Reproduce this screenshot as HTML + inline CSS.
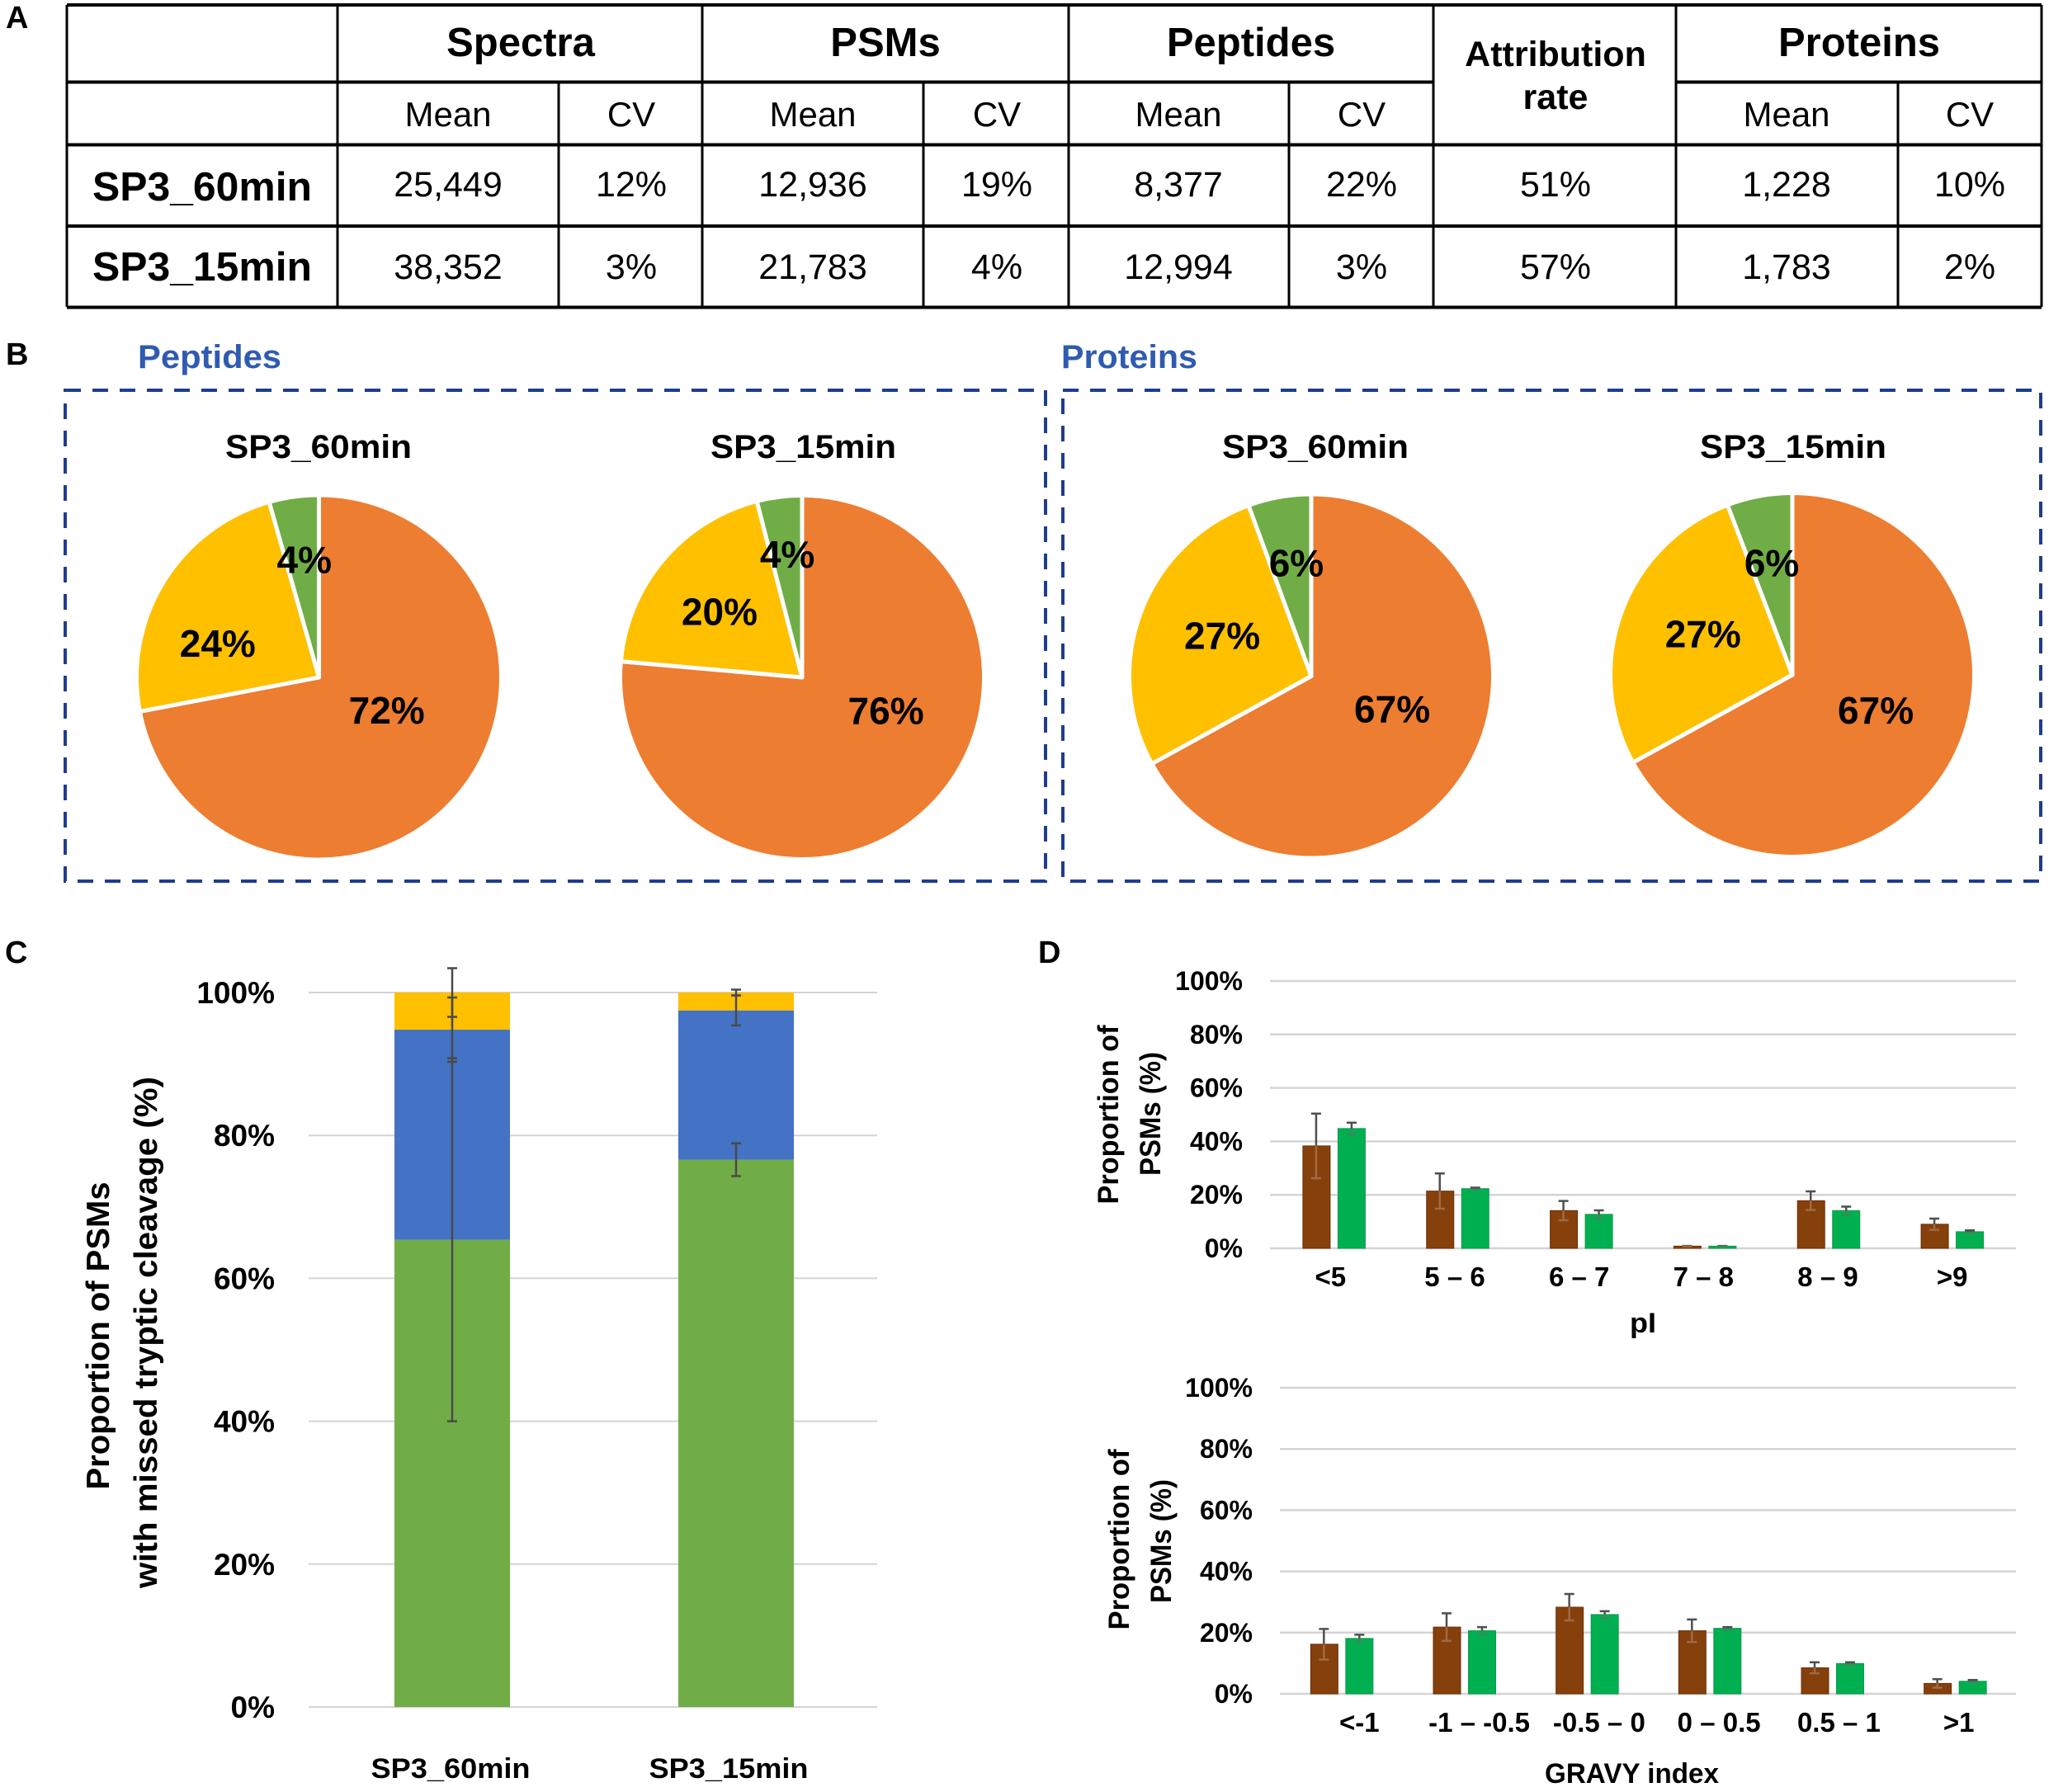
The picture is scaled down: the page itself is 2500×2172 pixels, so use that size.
<!DOCTYPE html>
<html lang="en">
<head>
<meta charset="utf-8">
<title>Proteomics summary figure</title>
<style>
html,body{margin:0;padding:0;background:#fff;}
svg{display:block;}
text{font-family:"Liberation Sans",sans-serif;fill:#000;}
.b{font-weight:bold;}
.hd{font-weight:bold;font-size:49px;text-anchor:middle;}
.sub{font-size:42px;text-anchor:middle;}
.num{font-size:43px;text-anchor:middle;}
.panel{font-weight:bold;font-size:38px;}
</style>
</head>
<body>
<svg id="fig" xmlns="http://www.w3.org/2000/svg" width="2500" height="2172" viewBox="0 0 2500 2172">
<rect width="2500" height="2172" fill="#fff"/>

<text class="panel" x="7" y="34">A</text>
<text class="panel" x="7" y="442">B</text>
<text class="panel" x="6" y="1167">C</text>
<text class="panel" x="1258" y="1167">D</text>

<g>
  <g stroke="#000" fill="none">
    <path stroke-width="4" d="M81 6H2474M81 99.5H1737M2031 99.5H2474M81 175.5H2474M81 274H2474M81 372.5H2474"/>
    <path stroke-width="3" d="M81 6V372M409 6V372M851 6V372M1295 6V372M1737 6V372M2031 6V372M2474 6V372M677 99V372M1119 99V372M1562 99V372M2300 99V372"/>
  </g>
  <text class="hd" x="631" y="68">Spectra</text>
  <text class="hd" x="1073" y="68">PSMs</text>
  <text class="hd" x="1516" y="68">Peptides</text>
  <text class="b" font-size="43" text-anchor="middle" x="1885" y="80">Attribution</text>
  <text class="b" font-size="43" text-anchor="middle" x="1885" y="132">rate</text>
  <text class="hd" x="2253" y="68">Proteins</text>

  <text class="sub" x="543" y="153">Mean</text>
  <text class="sub" x="765" y="153">CV</text>
  <text class="sub" x="985" y="153">Mean</text>
  <text class="sub" x="1208" y="153">CV</text>
  <text class="sub" x="1428" y="153">Mean</text>
  <text class="sub" x="1650" y="153">CV</text>
  <text class="sub" x="2165" y="153">Mean</text>
  <text class="sub" x="2387" y="153">CV</text>

  <text class="b" font-size="49" x="112" y="243" textLength="266" lengthAdjust="spacingAndGlyphs">SP3_60min</text>
  <text class="num" x="543" y="238">25,449</text>
  <text class="num" x="765" y="238">12%</text>
  <text class="num" x="985" y="238">12,936</text>
  <text class="num" x="1208" y="238">19%</text>
  <text class="num" x="1428" y="238">8,377</text>
  <text class="num" x="1650" y="238">22%</text>
  <text class="num" x="1885" y="238">51%</text>
  <text class="num" x="2165" y="238">1,228</text>
  <text class="num" x="2387" y="238">10%</text>

  <text class="b" font-size="49" x="112" y="340" textLength="266" lengthAdjust="spacingAndGlyphs">SP3_15min</text>
  <text class="num" x="543" y="338">38,352</text>
  <text class="num" x="765" y="338">3%</text>
  <text class="num" x="985" y="338">21,783</text>
  <text class="num" x="1208" y="338">4%</text>
  <text class="num" x="1428" y="338">12,994</text>
  <text class="num" x="1650" y="338">3%</text>
  <text class="num" x="1885" y="338">57%</text>
  <text class="num" x="2165" y="338">1,783</text>
  <text class="num" x="2387" y="338">2%</text>
</g>

<text class="b" style="fill:#2f5bb0" font-size="40" x="167" y="446" textLength="174" lengthAdjust="spacingAndGlyphs">Peptides</text>
<text class="b" style="fill:#2f5bb0" font-size="40" x="1286" y="446" textLength="165" lengthAdjust="spacingAndGlyphs">Proteins</text>
<rect x="79" y="473" width="1188" height="595" fill="none" stroke="#1f3c8f" stroke-width="4" stroke-dasharray="19 14"/>
<rect x="1288" y="473" width="1185" height="595" fill="none" stroke="#1f3c8f" stroke-width="4" stroke-dasharray="19 14"/>

<text class="b" font-size="40" x="273" y="555" textLength="226" lengthAdjust="spacingAndGlyphs">SP3_60min</text>
<text class="b" font-size="40" x="861" y="555" textLength="225" lengthAdjust="spacingAndGlyphs">SP3_15min</text>
<text class="b" font-size="40" x="1481" y="555" textLength="226" lengthAdjust="spacingAndGlyphs">SP3_60min</text>
<text class="b" font-size="40" x="2060" y="555" textLength="226" lengthAdjust="spacingAndGlyphs">SP3_15min</text>

<g id="pies"></g>

<g id="chartC">
  <text class="b" font-size="39" text-anchor="middle" transform="translate(132 1619) rotate(-90)" textLength="373" lengthAdjust="spacingAndGlyphs">Proportion of PSMs</text>
  <text class="b" font-size="39" text-anchor="middle" transform="translate(190 1615) rotate(-90)" textLength="620" lengthAdjust="spacingAndGlyphs">with missed tryptic cleavage (%)</text>
</g>

<g id="chartD1">
  <text class="b" font-size="35" text-anchor="middle" transform="translate(1355 1351) rotate(-90)" textLength="217" lengthAdjust="spacingAndGlyphs">Proportion of</text>
  <text class="b" font-size="35" text-anchor="middle" transform="translate(1406 1350) rotate(-90)" textLength="150" lengthAdjust="spacingAndGlyphs">PSMs (%)</text>
  <text class="b" font-size="34" x="1975" y="1615" textLength="32" lengthAdjust="spacingAndGlyphs">pI</text>
</g>

<g id="chartD2">
  <text class="b" font-size="35" text-anchor="middle" transform="translate(1368 1866) rotate(-90)" textLength="219" lengthAdjust="spacingAndGlyphs">Proportion of</text>
  <text class="b" font-size="35" text-anchor="middle" transform="translate(1419 1868) rotate(-90)" textLength="150" lengthAdjust="spacingAndGlyphs">PSMs (%)</text>
  <text class="b" font-size="34" x="1872" y="2161" textLength="211" lengthAdjust="spacingAndGlyphs">GRAVY index</text>
</g>
</svg>

<script>
// ---------- data ----------
const piePeptides60 = [72, 23.6, 4.4];
const piePeptides15 = [76.4, 19.6, 4];
const pieProteins60 = [67, 27.4, 5.6];
const pieProteins15 = [67, 27.2, 5.8];

const cCategories = ['SP3_60min', 'SP3_15min'];
const cTicks = [0, 20, 40, 60, 80, 100];
const cGreen = [65.4, 76.6];
const cBlue = [29.4, 20.9];
const cYellow = [5.2, 2.5];
const cGreenErr = [25.4, 2.3];
const cBlueErr = [4.5, 2.1];
const cYellowErr = [3.4, 0.4];

const dTicks = [0, 20, 40, 60, 80, 100];

const piCategories = ['<5', '5 – 6', '6 – 7', '7 – 8', '8 – 9', '>9'];
const piBrown = [38.3, 21.4, 14.1, 0.8, 17.8, 9.0];
const piGreen = [44.8, 22.3, 12.7, 0.8, 14.1, 6.2];
const piBrownErr = [12.1, 6.6, 3.6, 0.1, 3.5, 2.1];
const piGreenErr = [2.2, 0.4, 1.5, 0.1, 1.5, 0.5];

const gravyCategories = ['<-1', '-1 – -0.5', '-0.5 – 0', '0 – 0.5', '0.5 – 1', '>1'];
const gravyBrown = [16.2, 21.8, 28.3, 20.6, 8.5, 3.4];
const gravyGreen = [18.1, 20.6, 25.9, 21.4, 9.9, 4.1];
const gravyBrownErr = [5.0, 4.5, 4.3, 3.7, 1.8, 1.4];
const gravyGreenErr = [1.2, 1.2, 1.1, 0.4, 0.4, 0.4];

// ---------- helpers ----------
const NS = 'http://www.w3.org/2000/svg';
function mk(parent, tag, attrs, txt) {
  const n = document.createElementNS(NS, tag);
  for (const k in attrs) n.setAttribute(k, attrs[k]);
  if (txt !== undefined) n.textContent = txt;
  parent.appendChild(n);
  return n;
}
function slug(s) {
  return String(s).toLowerCase().replace(/</g, 'lt-').replace(/>/g, 'gt-').replace(/[^a-z0-9.]+/g, '-');
}

// ---------- pies ----------
const pieColors = ['#ED7D31', '#FFC000', '#70AD47'];
const pieSliceNames = ['orange', 'yellow', 'green'];
function drawPie(name, values, cx, cy, r, nudge) {
  const root = document.getElementById('pies');
  const g = mk(root, 'g', {});
  
  
  const total = values.reduce((a, b) => a + b, 0);
  let acc = 0;
  values.forEach((v, i) => {
    const a0 = acc / total * 2 * Math.PI;
    acc += v;
    const a1 = acc / total * 2 * Math.PI;
    const x0 = cx + r * Math.sin(a0), y0 = cy - r * Math.cos(a0);
    const x1 = cx + r * Math.sin(a1), y1 = cy - r * Math.cos(a1);
    const large = (a1 - a0) > Math.PI ? 1 : 0;
    const p = mk(g, 'path', {
      d: 'M' + cx + ' ' + cy + 'L' + x0 + ' ' + y0 + 'A' + r + ' ' + r + ' 0 ' + large + ' 1 ' + x1 + ' ' + y1 + 'Z',
      fill: pieColors[i], stroke: '#fff', 'stroke-width': 5, 'stroke-linejoin': 'round'
    });
    
    
  });
  acc = 0;
  values.forEach((v, i) => {
    const mid = (acc + v / 2) / total * 2 * Math.PI;
    acc += v;
    const lx = cx + 143 * Math.sin(mid) + nudge[i][0];
    const ly = cy - 143 * Math.cos(mid) + nudge[i][1] + 15;
    const t = mk(g, 'text', { x: lx, y: ly, 'font-size': 46, 'font-weight': 'bold', 'text-anchor': 'middle' }, Math.round(v) + '%');
    
    
  });
}
drawPie('peptides-60min', piePeptides60, 386.5, 821, 221, [[-28, -50], [-1, 35], [2, 0]]);
drawPie('peptides-15min', piePeptides15, 972, 821, 220.5, [[5, -64], [9, 14], [0, -6]]);
drawPie('proteins-60min', pieProteins60, 1589, 819.5, 220.5, [[-25, -32], [26, 2], [7, 5]]);
drawPie('proteins-15min', pieProteins15, 2172, 818, 220.5, [[-22, -29], [26, 1], [1, 6]]);

// ---------- shared axis ----------
function linearY(y0, y100) {
  return v => y0 - v * (y0 - y100) / 100;
}
function bandX(x0, x1, n) {
  const w = (x1 - x0) / n;
  return i => x0 + (i + 0.5) * w;
}
function drawErr(g, name, x, yTop, yBot, cap, color, lowerColor) {
  const mid = (yTop + yBot) / 2;
  const up = mk(g, 'path', {
    d: 'M' + (x - cap / 2) + ' ' + yTop + 'H' + (x + cap / 2) + 'M' + x + ' ' + yTop + 'V' + mid,
    stroke: color, 'stroke-width': 2.5, fill: 'none'
  });
  
  
  const lo = mk(g, 'path', {
    d: 'M' + x + ' ' + mid + 'V' + yBot + 'M' + (x - cap / 2) + ' ' + yBot + 'H' + (x + cap / 2),
    stroke: lowerColor, 'stroke-width': 2.5, fill: 'none'
  });
  
  
}

// ---------- chart C ----------
(function () {
  const g = document.getElementById('chartC');
  const y = linearY(2069, 1203);
  const x = bandX(376, 1064, cCategories.length);
  const barW = 140;
  cTicks.forEach(t => {
    const l = mk(g, 'line', { x1: 374, x2: 1063, y1: y(t), y2: y(t), stroke: '#d4d4d4', 'stroke-width': 2 });
    
    
    const s = mk(g, 'text', { x: 333, y: y(t) + 13, 'font-size': 37, 'font-weight': 'bold', 'text-anchor': 'end' }, t + '%');
    
    
  });
  cCategories.forEach((c, i) => {
    const base1 = cGreen[i], base2 = base1 + cBlue[i], base3 = base2 + cYellow[i];
    const left = x(i) - barW / 2;
    const r1 = mk(g, 'rect', { x: left, width: barW, y: y(base1), height: y(0) - y(base1), fill: '#70AD47' });
    
    
    const r2 = mk(g, 'rect', { x: left, width: barW, y: y(base2), height: y(base1) - y(base2), fill: '#4472C4' });
    
    
    const r3 = mk(g, 'rect', { x: left, width: barW, y: y(base3), height: y(base2) - y(base3), fill: '#FFC000' });
    
    
    drawErr(g, 'c-error-green-' + slug(c), x(i), y(base1 + cGreenErr[i]), y(base1 - cGreenErr[i]), 12, '#4a4a4a', '#4a4a4a');
    drawErr(g, 'c-error-blue-' + slug(c), x(i), y(base2 + cBlueErr[i]), y(base2 - cBlueErr[i]), 12, '#4a4a4a', '#4a4a4a');
    drawErr(g, 'c-error-yellow-' + slug(c), x(i), y(base3 + cYellowErr[i]), y(base3 - cYellowErr[i]), 12, '#4a4a4a', '#4a4a4a');
    const lab = mk(g, 'text', { x: x(i) - 2 - 7 * i, y: 2155, 'font-size': 34, 'font-weight': 'bold', 'text-anchor': 'middle', textLength: 193, lengthAdjust: 'spacingAndGlyphs' }, c);
    
    
  });
})();

// ---------- charts D ----------
function drawGrouped(id, prefix, cats, brown, green, brownErr, greenErr, cfg) {
  const g = document.getElementById(id);
  const y = linearY(cfg.y0, cfg.y100);
  const x = bandX(cfg.barX0, cfg.barX1, cats.length);
  const labelBand = bandX(cfg.x0, cfg.x1, cats.length);
  const w = 33;
  dTicks.forEach(t => {
    const l = mk(g, 'line', { x1: cfg.x0, x2: cfg.x1, y1: y(t), y2: y(t), stroke: '#d4d4d4', 'stroke-width': 2.5 });
    
    
    const s = mk(g, 'text', { x: cfg.tickX, y: y(t) + 11, 'font-size': 32, 'font-weight': 'bold', 'text-anchor': 'end' }, t + '%');
    
    
  });
  cats.forEach((c, i) => {
    const cx = x(i);
    const b = mk(g, 'rect', { x: cx - 37, width: w, y: y(brown[i]), height: y(0) - y(brown[i]), fill: '#86400C', stroke: '#6b2f06', 'stroke-width': 1 });
    
    
    const gr = mk(g, 'rect', { x: cx + 5.5, width: w, y: y(green[i]), height: y(0) - y(green[i]), fill: '#00B050', stroke: '#0b9a4a', 'stroke-width': 1 });
    
    
    drawErr(g, prefix + '-error-brown-' + slug(c), cx - 21, y(brown[i] + brownErr[i]), y(brown[i] - brownErr[i]), 12, '#4f4f4f', '#a06a45');
    drawErr(g, prefix + '-error-green-' + slug(c), cx + 22, y(green[i] + greenErr[i]), y(green[i] - greenErr[i]), 12, '#4f4f4f', '#3a8a5c');
    const lab = mk(g, 'text', { x: labelBand(i) + cfg.labelShift(i), y: cfg.labelY, 'font-size': 33, 'font-weight': 'bold', 'text-anchor': 'middle' }, c);
    
    
  });
}
drawGrouped('chartD1', 'd1', piCategories, piBrown, piGreen, piBrownErr, piGreenErr,
  { y0: 1513, y100: 1189, x0: 1539, x1: 2443, barX0: 1541, barX1: 2440, tickX: 1506, labelY: 1559, labelShift: i => -2 });
drawGrouped('chartD2', 'd2', gravyCategories, gravyBrown, gravyGreen, gravyBrownErr, gravyGreenErr,
  { y0: 2053, y100: 1682, x0: 1551, x1: 2443, barX0: 1551, barX1: 2443, tickX: 1518, labelY: 2099, labelShift: i => 22 - 3.4 * i });
</script>
</body>
</html>
